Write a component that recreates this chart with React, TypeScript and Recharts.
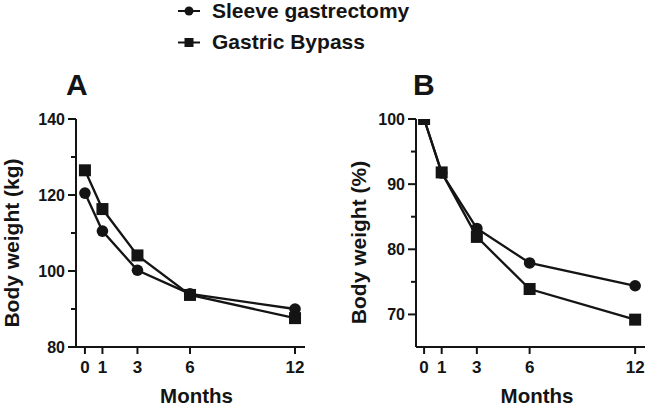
import React from 'react';
import { LineChart, Line, XAxis, YAxis } from 'recharts';

const months = [0, 1, 3, 6, 12];
const sleeveKg = [120.5, 110.5, 100.2, 94.0, 90.0];
const bypassKg = [126.5, 116.3, 104.1, 93.7, 87.6];
const sleevePct = [100, 91.7, 83.2, 77.9, 74.4];
const bypassPct = [100, 91.8, 81.9, 73.9, 69.2];

const kgTicks = [80, 90, 100, 110, 120, 130, 140];
const kgMajor = [80, 100, 120, 140];
const pctTicks = [70, 75, 80, 85, 90, 95, 100];
const pctMajor = [70, 80, 90, 100];
const seriesNames = ['Sleeve gastrectomy', 'Gastric Bypass'];

const dataA = months.map((m, i) => ({ m, sleeve: sleeveKg[i], bypass: bypassKg[i] }));
const dataB = months.map((m, i) => ({ m, sleeve: sleevePct[i], bypass: bypassPct[i] }));

const INK = '#141414';
const FONT = '"Liberation Sans", Arial, Helvetica, sans-serif';

const makeYTick = (major: number[]) => (props: any) => {
  const { x, y, payload } = props;
  const isMajor = major.includes(payload.value);
  return (
    <g>
      <line x1={x - (isMajor ? 8 : 5)} x2={x} y1={y} y2={y} stroke={INK} strokeWidth={2} />
      {isMajor && (
        <text x={x - 11} y={y} dy="0.36em" textAnchor="end" fontFamily={FONT} fontWeight="bold" fontSize={16} fill={INK}>
          {payload.value}
        </text>
      )}
    </g>
  );
};

const XTick = (props: any) => {
  const { x, y, payload } = props;
  return (
    <g>
      <line x1={x} x2={x} y1={y} y2={y + 7} stroke={INK} strokeWidth={2} />
      <text x={x} y={y + 20} dy="0.36em" textAnchor="middle" fontFamily={FONT} fontWeight="bold" fontSize={17} fill={INK}>
        {payload.value}
      </text>
    </g>
  );
};

const SquareDot = (props: any) => {
  const { cx, cy } = props;
  if (cx == null || cy == null) return null;
  return <rect x={cx - 6} y={cy - 6} width={12} height={12} fill={INK} />;
};
const CircleDot = (props: any) => {
  const { cx, cy } = props;
  if (cx == null || cy == null) return null;
  return <circle cx={cx} cy={cy} r={5.8} fill={INK} />;
};

function Panel(props: {
  data: any[];
  left: number;
  margin: any;
  xDomain: number[];
  yDomain: number[];
  yTicks: number[];
  yMajor: number[];
}) {
  const { data, left, margin, xDomain, yDomain, yTicks, yMajor } = props;
  return (
    <div style={{ position: 'absolute', left, top: 0 }}>
      <LineChart width={323} height={411} data={data} margin={margin}>
        <XAxis
          dataKey="m"
          type="number"
          domain={xDomain}
          ticks={months}
          allowDataOverflow
          tickSize={0}
          tickMargin={0}
          tickLine={false}
          height={40}
          axisLine={{ stroke: INK, strokeWidth: 2 }}
          tick={<XTick />}
          interval={0}
        />
        <YAxis
          type="number"
          domain={yDomain}
          ticks={yTicks}
          allowDataOverflow
          tickSize={0}
          tickMargin={0}
          tickLine={false}
          width={60}
          axisLine={{ stroke: INK, strokeWidth: 2 }}
          tick={makeYTick(yMajor)}
          interval={0}
        />
        <Line
          dataKey="sleeve"
          stroke={INK}
          strokeWidth={2.3}
          dot={<CircleDot />}
          isAnimationActive={false}
        />
        <Line
          dataKey="bypass"
          stroke={INK}
          strokeWidth={2.3}
          dot={<SquareDot />}
          isAnimationActive={false}
        />
      </LineChart>
    </div>
  );
}

export default function App() {
  return (
    <div style={{ position: 'absolute', left: 0, top: 0, width: 646, height: 411, background: '#fff', overflow: 'hidden' }}>
      <Panel
        data={dataA}
        left={0}
        margin={{ top: 119, right: 18, bottom: 24, left: 16 }}
        xDomain={[-0.51, 12.57]}
        yDomain={[80, 140]}
        yTicks={kgTicks}
        yMajor={kgMajor}
      />
      <Panel
        data={dataB}
        left={323}
        margin={{ top: 119, right: 1, bottom: 24, left: 33 }}
        xDomain={[-0.46, 12.56]}
        yDomain={[65, 100]}
        yTicks={pctTicks}
        yMajor={pctMajor}
      />
      <svg width={646} height={411} style={{ position: 'absolute', left: 0, top: 0, pointerEvents: 'none' }}>
        <g fontFamily={FONT} fontWeight="bold" fill={INK}>
          <line x1={178} x2={200} y1={11} y2={11} stroke={INK} strokeWidth={2} />
          <circle cx={189} cy={11} r={4.5} fill={INK} />
          <text x={212} y={17.5} fontSize={21}>{seriesNames[0]}</text>
          <line x1={178} x2={200} y1={42.5} y2={42.5} stroke={INK} strokeWidth={2} />
          <rect x={184.5} y={38} width={9} height={9} fill={INK} />
          <text x={212} y={48.5} fontSize={21}>{seriesNames[1]}</text>
          <text x={66} y={95} fontSize={30}>A</text>
          <text x={413} y={95} fontSize={30}>B</text>
          <text x={196.5} y={403} fontSize={20.5} textAnchor="middle">Months</text>
          <text x={537} y={403} fontSize={20.5} textAnchor="middle">Months</text>
          <text x={18.5} y={243} fontSize={21} textAnchor="middle" transform="rotate(-90 18.5 243)">Body weight (kg)</text>
          <text x={366} y={242.5} fontSize={21} textAnchor="middle" transform="rotate(-90 366 242.5)">Body weight (%)</text>
        </g>
      </svg>
    </div>
  );
}
